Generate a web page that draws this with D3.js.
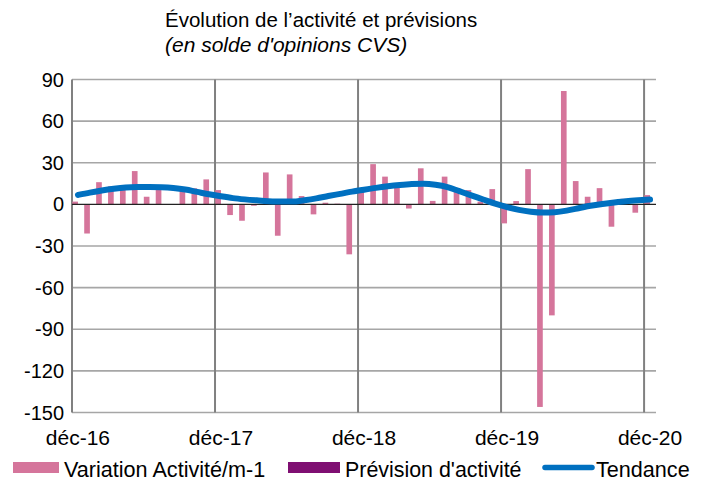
<!DOCTYPE html>
<html><head><meta charset="utf-8">
<script src="https://cdn.jsdelivr.net/npm/d3@7/dist/d3.min.js"></script>
<style>
body{margin:0;background:#fff;}
svg{display:block;font-family:"Liberation Sans",Arial,sans-serif;}
</style></head><body>
<svg id="c" width="711" height="486"></svg>
<script>
const months = ["déc-16","janv-17","févr-17","mars-17","avr-17","mai-17","juin-17","juil-17","août-17","sept-17","oct-17","nov-17",
"déc-17","janv-18","févr-18","mars-18","avr-18","mai-18","juin-18","juil-18","août-18","sept-18","oct-18","nov-18",
"déc-18","janv-19","févr-19","mars-19","avr-19","mai-19","juin-19","juil-19","août-19","sept-19","oct-19","nov-19",
"déc-19","janv-20","févr-20","mars-20","avr-20","mai-20","juin-20","juil-20","août-20","sept-20","oct-20","nov-20","déc-20"];
const variation = [2,-21,16,13,12.5,24,5.5,10.5,0,12.5,11.6,18,
10.3,-7.7,-11.8,-1,23,-22.6,21.6,6,-7.2,1.2,0.5,-36,
9,29,20,13,-3,26,2.5,20,9,10.3,2,11,
-13.7,2.4,25.4,-146,-80,81.7,16.8,5.5,11.7,-16.1,4,-6,6.7];
const prevision = months.map(() => null);
const tendance = [6.8,8.5,10,11.2,12.1,12.5,12.6,12.4,11.8,10.7,9,7.3,
5.8,4.5,3.6,2.9,2.3,2,2,3,4.3,6,7.6,9.2,
10.6,11.9,13,13.9,14.6,14.9,14.2,12.5,9.5,6.5,3.5,0.5,
-2,-4,-5.3,-5.9,-5.6,-4.5,-2.8,-1,0.3,1.3,2.2,2.9,3.5];
const yTicks = [90,60,30,0,-30,-60,-90,-120,-150];
const xTickLabels = ["déc-16","déc-17","déc-18","déc-19","déc-20"];
const seriesNames = ["Variation Activité/m-1","Prévision d'activité","Tendance"];
const colors = ["#D5759B","#7F0F72","#0070C0"];

const svg = d3.select("#c");
const L = 72, R = 656, T = 79.5, B = 412.5;
const x = d3.scaleBand().domain(months).range([L, R]).paddingInner(0).paddingOuter(0);
const y = d3.scaleLinear().domain([-150, 90]).range([B, T]);

// horizontal gridlines
svg.append("g").selectAll("line").data(yTicks).join("line")
  .attr("x1", L).attr("x2", R).attr("y1", d => y(d)).attr("y2", d => y(d))
  .attr("stroke", d => d === 0 ? "none" : "#a6a6a6").attr("stroke-width", 1.6);

// vertical gridlines at year boundaries
svg.append("g").selectAll("line").data(xTickLabels).join("line")
  .attr("x1", d => x(d)).attr("x2", d => x(d)).attr("y1", T).attr("y2", B)
  .attr("stroke", "#808080").attr("stroke-width", 2);

// bars
svg.append("g").selectAll("rect").data(variation.map((v,i)=>({m:months[i],v}))).join("rect")
  .attr("x", d => x(d.m) + 0.3)
  .attr("width", x.bandwidth()/2 - 0.3)
  .attr("y", d => y(Math.max(0, d.v)))
  .attr("height", d => Math.abs(y(d.v) - y(0)))
  .attr("fill", colors[0]);
svg.append("g").selectAll("rect").data(prevision.map((v,i)=>({m:months[i],v})).filter(d=>d.v!=null)).join("rect")
  .attr("x", d => x(d.m) + x.bandwidth()/2)
  .attr("width", x.bandwidth()/2)
  .attr("y", d => y(Math.max(0, d.v)))
  .attr("height", d => Math.abs(y(d.v) - y(0)))
  .attr("fill", colors[1]);

// zero line
svg.append("line").attr("x1", L).attr("x2", R).attr("y1", y(0)).attr("y2", y(0))
  .attr("stroke", "#222").attr("stroke-width", 1.2);

// trend line
const line = d3.line().x((d,i) => x(months[i]) + x.bandwidth()/2).y(d => y(d)).curve(d3.curveMonotoneX);
svg.append("path").datum(tendance).attr("d", line)
  .attr("fill", "none").attr("stroke", colors[2]).attr("stroke-width", 6)
  .attr("stroke-linecap", "round").attr("stroke-linejoin", "round");

// y axis labels
svg.append("g").selectAll("text").data(yTicks).join("text")
  .attr("x", 64).attr("y", d => y(d) + 7).attr("text-anchor", "end")
  .attr("font-size", 20).attr("fill", "#000").text(d => d);

// x axis labels
svg.append("g").selectAll("text").data(xTickLabels).join("text")
  .attr("x", d => x(d) + x.bandwidth()/2).attr("y", 445).attr("text-anchor", "middle")
  .attr("font-size", 21).attr("fill", "#000").text(d => d);

// title
svg.append("text").attr("x", 165).attr("y", 27).attr("font-size", 20.5).text("Évolution de l’activité et prévisions");
svg.append("text").attr("x", 165).attr("y", 52).attr("font-size", 21).attr("font-style", "italic").text("(en solde d'opinions CVS)");

// legend
const lg = svg.append("g");
lg.append("rect").attr("x", 13).attr("y", 462).attr("width", 46).attr("height", 11).attr("fill", colors[0]);
lg.append("text").attr("x", 64).attr("y", 477).attr("font-size", 21.6).text(seriesNames[0]);
lg.append("rect").attr("x", 288).attr("y", 462).attr("width", 52).attr("height", 11).attr("fill", colors[1]);
lg.append("text").attr("x", 345).attr("y", 477).attr("font-size", 21.4).text(seriesNames[1]);
lg.append("line").attr("x1", 545).attr("x2", 592).attr("y1", 467.5).attr("y2", 467.5)
  .attr("stroke", colors[2]).attr("stroke-width", 5.5).attr("stroke-linecap", "round");
lg.append("text").attr("x", 596).attr("y", 477).attr("font-size", 21.6).text(seriesNames[2]);
</script></body></html>
